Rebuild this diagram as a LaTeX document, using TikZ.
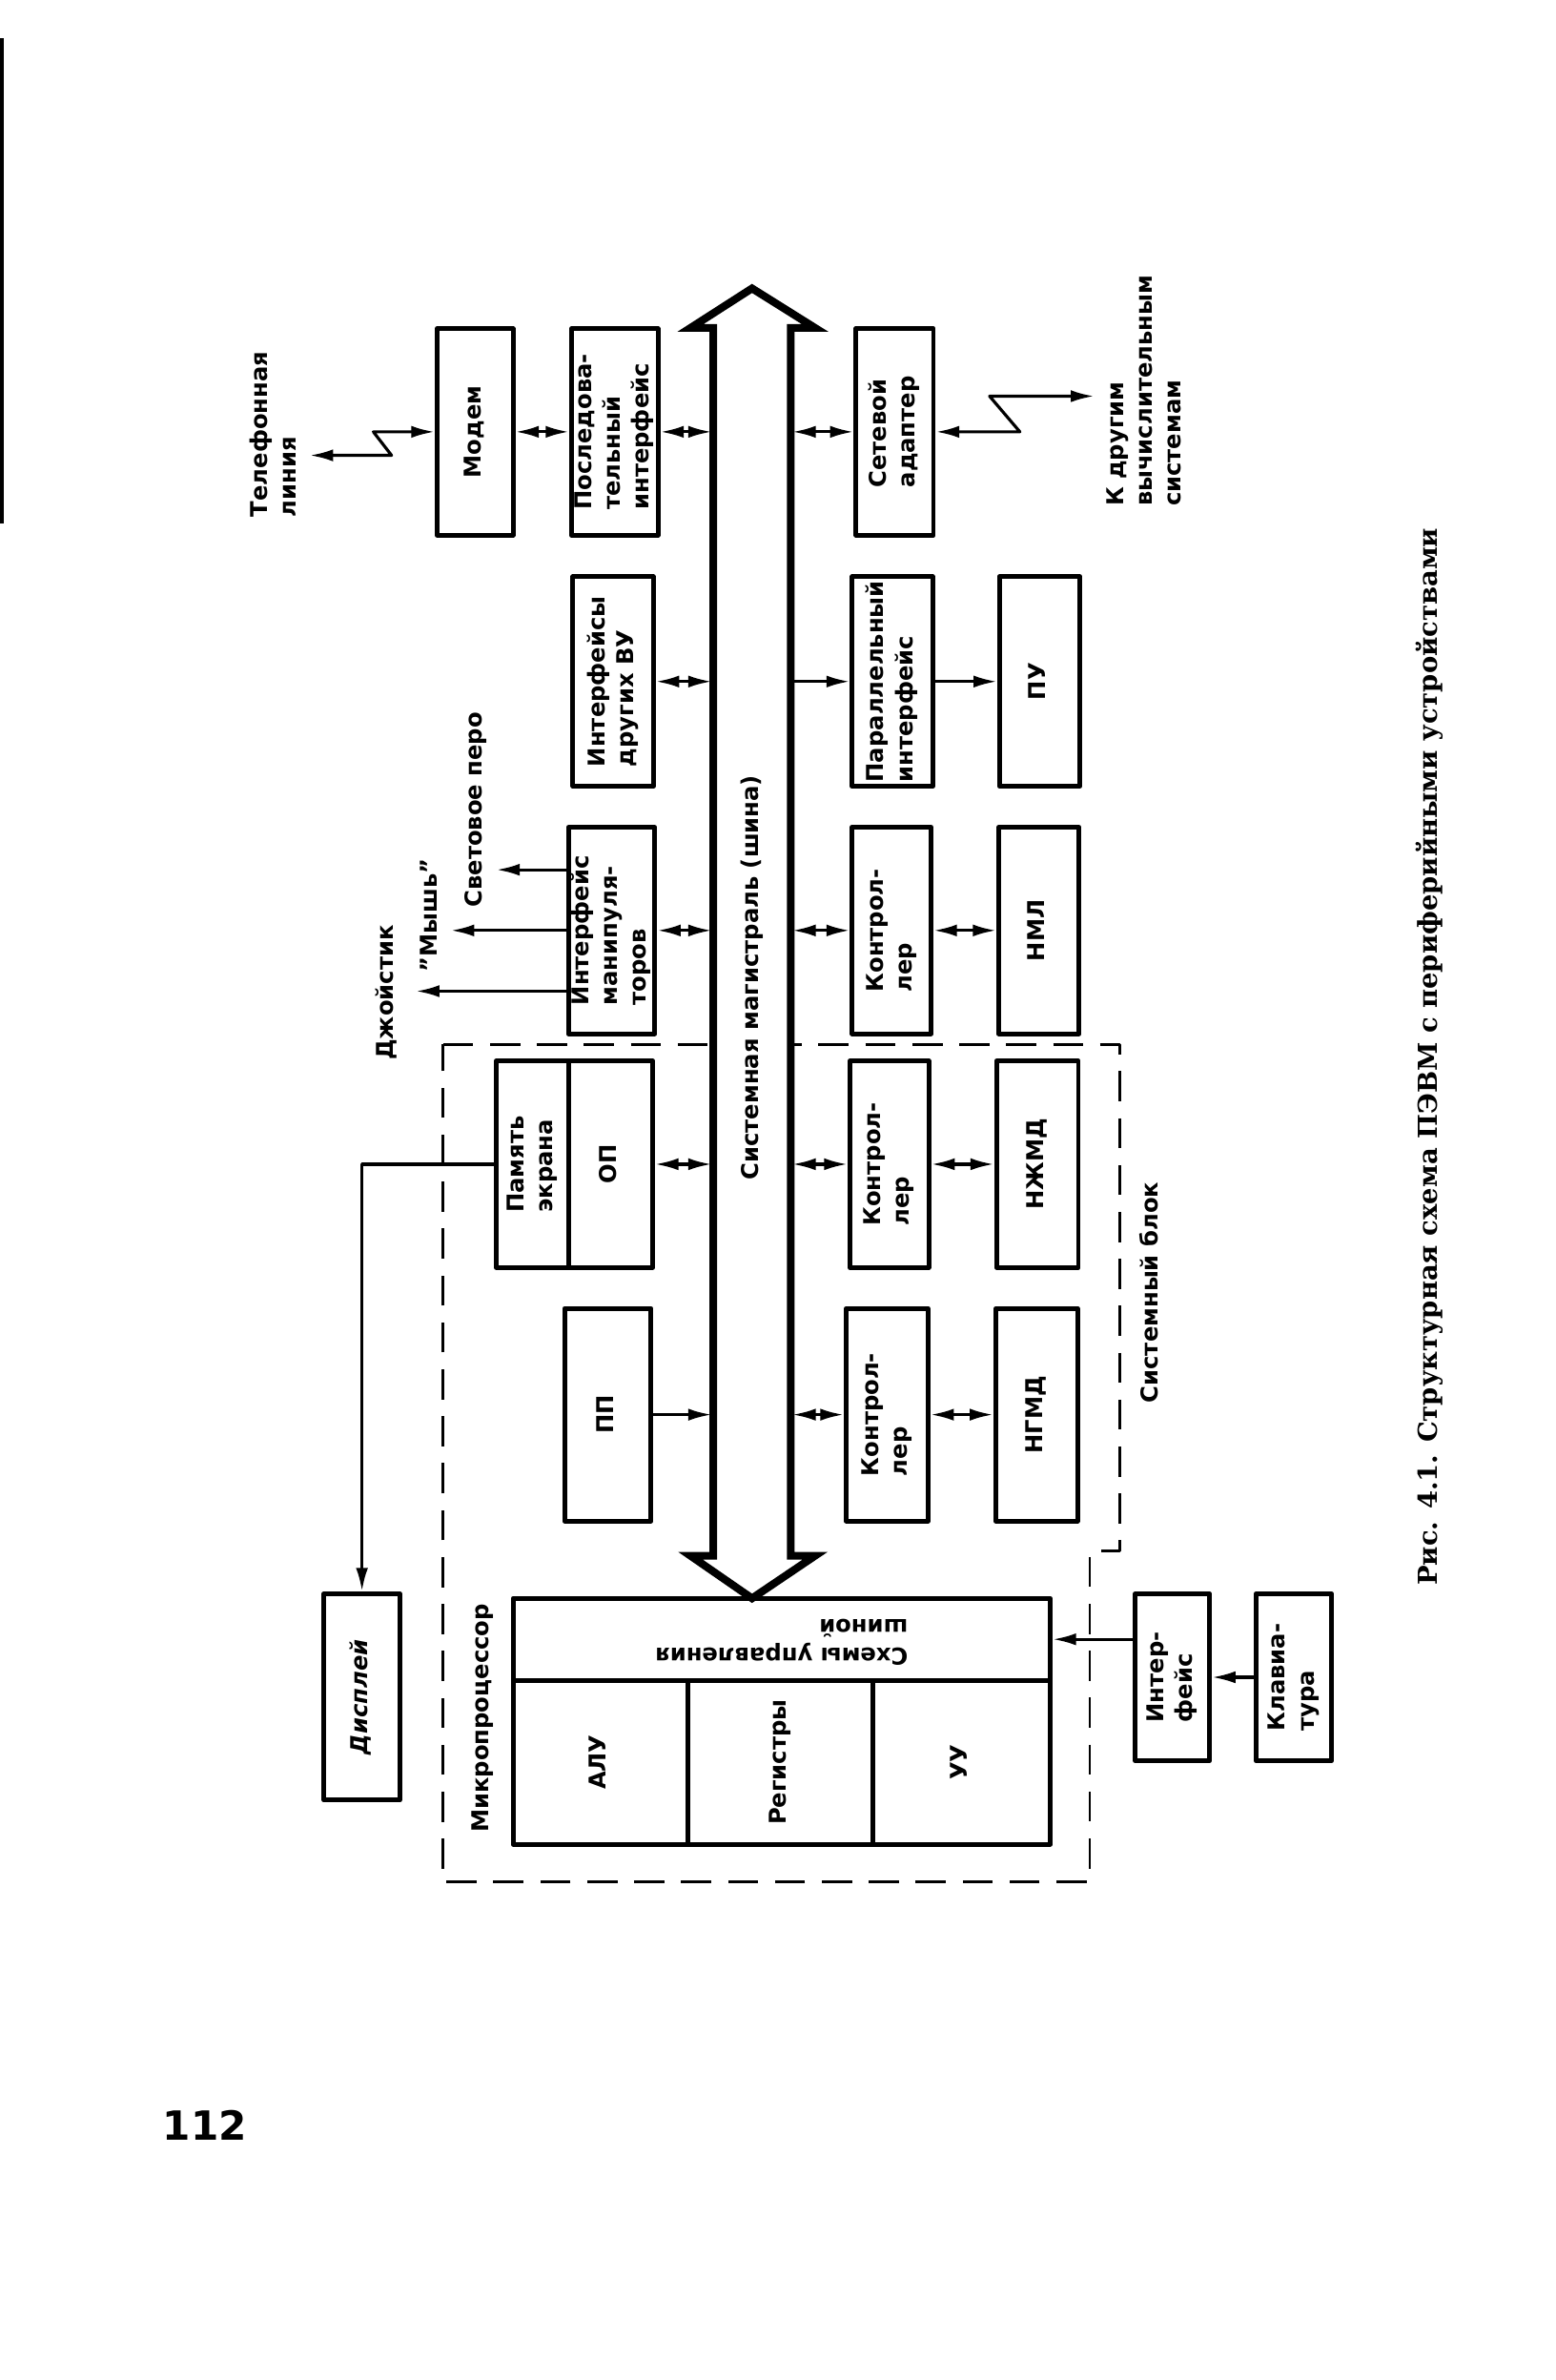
\documentclass[tikz,border=0pt]{standalone}
\usepackage{fontspec}
\setmainfont{DejaVu Sans}
\newfontfamily\capfont{DejaVu Serif}
\usepackage{graphicx}
\usetikzlibrary{arrows.meta}
\newcommand{\pxu}{0.15918mm}
\newcommand{\vt}[1]{\rotatebox{90}{\bfseries\begin{tabular}{@{}l@{}}#1\end{tabular}}}
\tikzset{
  blk/.style 2 args={draw,line width=1.4pt,inner sep=0pt,minimum width=#1*\pxu,minimum height=#2*\pxu},
  lbl/.style={inner sep=0pt},
  con/.style={line width=0.9pt},
  bord/.style={line width=0.8pt,dash pattern=on 9pt off 5pt},
}
\begin{document}
\begin{tikzpicture}[x=\pxu,y=-\pxu,line join=round,>={Latex[length=7pt,width=3.6pt]},font=\fontsize{6.9}{8.6}\selectfont]
\useasboundingbox (0,0) rectangle (1025,1568);
\fill (0,25) rectangle (2.5,345);
% system block and bus
\draw[bord] (292,688) -- (738,688) -- (738,1022) -- (718,1022) -- (718,1240) -- (292,1240) -- cycle;
\draw[line width=2.3pt,fill=white,line join=miter] (470,216) -- (455,216) -- (495.5,190) -- (537,216) -- (521,216) -- (521,1025) -- (537,1025) -- (495.5,1053) -- (455,1025) -- (470,1025) -- cycle;
\coordinate (busL) at (469,0);
\coordinate (busR) at (522,0);
\node[lbl] (buslbl) at (496,644) {\vt{Системная магистраль (шина)}};
% blocks
\node[blk={50}{136}] (modem) at (313,284.5) {\vt{Модем}};
\node[blk={52}{136}] (posl) at (405,284.5) {\vt{Последова-\\тельный\\интерфейс}};
\node[blk={51}{136}] (setev) at (589.5,284.5) {\vt{Сетевой\\адаптер}};
\node[blk={53}{138}] (intvu) at (404,449) {\vt{Интерфейсы\\других ВУ}};
\node[blk={53}{138}] (par) at (588,449) {\vt{Параллельный\\интерфейс}};
\node[blk={53}{138}] (pu) at (685,449) {\vt{ПУ}};
\node[blk={53}{136}] (intman) at (403,613) {\vt{Интерфейс\\манипуля-\\торов}};
\node[blk={52}{136}] (ctlA) at (587.5,613) {\vt{Контрол-\\лер}};
\node[blk={53}{136}] (nml) at (684.5,613) {\vt{НМЛ}};
\node[blk={48}{136}] (scr) at (351,767) {\vt{Память\\экрана}};
\node[blk={55}{136}] (op) at (402.5,767) {\vt{ОП}};
\node[blk={52}{136}] (ctlB) at (586,767) {\vt{Контрол-\\лер}};
\node[blk={54}{136}] (nzhmd) at (683.5,767) {\vt{НЖМД}};
\node[blk={57}{140}] (pp) at (400.5,932) {\vt{ПП}};
\node[blk={54}{140}] (ctlC) at (584.5,932) {\vt{Контрол-\\лер}};
\node[blk={54}{140}] (ngmd) at (683,932) {\vt{НГМД}};
% microprocessor
\node[blk={354}{54}] (busctl) at (515,1080) {\rotatebox{180}{\bfseries\begin{tabular}{@{}l@{}}Схемы управления\\шиной\end{tabular}}};
\node[blk={115}{108}] (alu) at (395.5,1161) {\vt{АЛУ}};
\node[blk={122}{108}] (reg) at (514,1161) {\vt{Регистры}};
\node[blk={117}{108}] (uu) at (633.5,1161) {\vt{УУ}};
\node[blk={50}{136}] (disp) at (238.5,1118) {\vt{\itshape Дисплей}};
\node[blk={49}{110}] (kif) at (772.5,1105) {\vt{Интер-\\фейс}};
\node[blk={50}{110}] (kbd) at (852.5,1105) {\vt{Клавиа-\\тура}};
% connections
\draw[con,<->] (modem) -- (posl);
\draw[con,<->] (posl) -- (posl -| busL);
\draw[con,<->] (setev -| busR) -- (setev);
\draw[con,<->] (intvu) -- (intvu -| busL);
\draw[con,->] (par -| busR) -- (par);
\draw[con,->] (par) -- (pu);
\draw[con,<->] (intman) -- (intman -| busL);
\draw[con,<->] (ctlA -| busR) -- (ctlA);
\draw[con,<->] (ctlA) -- (nml);
\draw[con,<->] (op) -- (op -| busL);
\draw[con,<->] (ctlB -| busR) -- (ctlB);
\draw[con,<->] (ctlB) -- (nzhmd);
\draw[con,->] (pp) -- (pp -| busL);
\draw[con,<->] (ctlC -| busR) -- (ctlC);
\draw[con,<->] (ctlC) -- (ngmd);
\coordinate (tel) at (204,300);
\draw[con,<->] (tel) -- (258,300) -- (246,284.5) -- (modem);
\coordinate (net) at (721,261);
\draw[con,<->] (setev) -- (672,284.5) -- (652,261) -- (net);
\coordinate (pen) at (327,573);
\coordinate (mouse) at (297,613);
\coordinate (joy) at (274,653);
\foreach \c in {pen,mouse,joy}
\draw[con,->] (intman.west |- \c) -- (\c);
\draw[con,->] (scr.west) -| (disp.north);
\draw[con,->] (kbd) -- (kif);
\draw[con,->] (kif.west |- busctl) -- (busctl.east);
% labels
\node[lbl,anchor=south] (tellbl) at (182,341) {\vt{Телефонная\\линия}};
\node[lbl,anchor=south] (netlbl) at (755.5,334) {\vt{К другим\\вычислительным\\системам}};
\node[lbl] (penlbl) at (313.5,533.5) {\vt{Световое перо}};
\node[lbl] (mouselbl) at (284.5,603) {\vt{''Мышь''}};
\node[lbl] (joylbl) at (255.5,654) {\vt{Джойстик}};
\node[lbl] (sblbl) at (759,851.5) {\vt{Системный блок}};
\node[lbl] (mplbl) at (318,1132) {\vt{Микропроцессор}};
\node[lbl,anchor=south] (cap) at (942,1045) {\rotatebox{90}{\capfont\bfseries\fontsize{7.8}{10}\selectfont Рис. 4.1. Структурная схема ПЭВМ с периферийными устройствами}};
\node[lbl] (page) at (135,1400) {\fontsize{12}{14}\selectfont\bfseries 112};
\end{tikzpicture}
\end{document}
